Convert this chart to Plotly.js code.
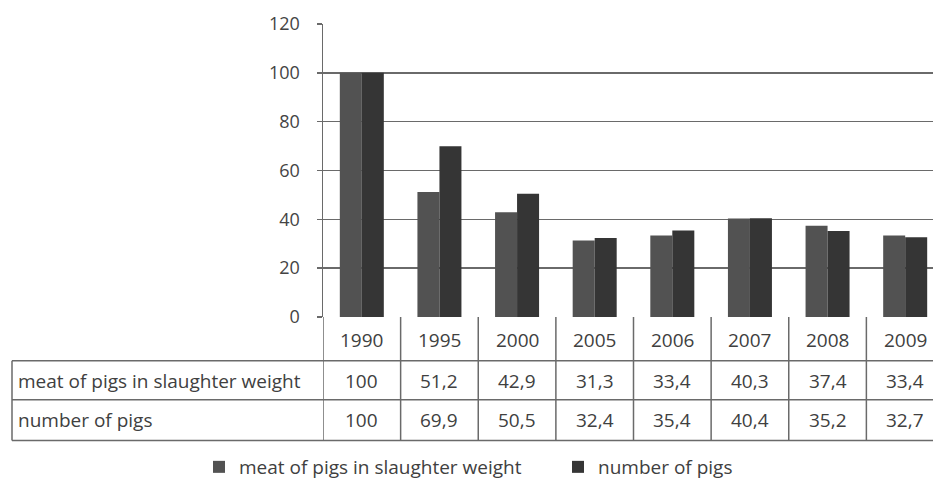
<!DOCTYPE html>
<html>
<head>
<meta charset="utf-8">
<script src="https://cdn.plot.ly/plotly-3.0.1.min.js"></script>
<style>
html,body{margin:0;padding:0;overflow:hidden;background:#fff;}
#chart{width:945px;height:486px;}
</style>
</head>
<body>
<div id="chart"></div>
<script>
const years = ["1990","1995","2000","2005","2006","2007","2008","2009"];
const seriesNames = ["meat of pigs in slaughter weight", "number of pigs"];
const meat = [100, 51.2, 42.9, 31.3, 33.4, 40.3, 37.4, 33.4];
const pigs = [100, 69.9, 50.5, 32.4, 35.4, 40.4, 35.2, 32.7];
const yTicks = [0, 20, 40, 60, 80, 100, 120];

const FONT = "Open Sans, Noto Sans, sans-serif";
const TXT = "#404040";
const LINE = "#6a6a6a";
const FS = 19;

// geometry (pixels)
const W = 945, H = 486;
const L = 323, T = 24, B = 318;
const plotW = W - L - 1, plotH = B - T;
const px2py = p => (B - p) / plotH;       // pixel y -> paper y
const px2px = p => (p - L) / plotW;       // pixel x -> paper x

const rowLines = [362, 401, 442].map(px2py);
const rowCenters = [341, 382, 421].map(px2py);
const tableLeft = px2px(12);
const labelX = px2px(16);

const fmt = v => String(v).replace('.', ',');

const shapes = [];
for (let k = 0; k <= years.length; k++) {
  shapes.push({type:'line', xref:'x', yref:'paper', x0:k-0.5, x1:k-0.5, y0:0, y1:rowLines[2],
    line:{color:LINE, width:1.5}});
}
rowLines.forEach(y => shapes.push({type:'line', xref:'paper', yref:'paper', x0:tableLeft, x1:1.02, y0:y, y1:y,
  line:{color:LINE, width:1.5}}));
shapes.push({type:'line', xref:'paper', yref:'paper', x0:tableLeft, x1:tableLeft, y0:rowLines[0], y1:rowLines[2],
  line:{color:LINE, width:1.5}});

const annotations = [];
const cellFont = {family:FONT, size:FS, color:TXT};
years.forEach((yr, i) => {
  [[yr, rowCenters[0]], [fmt(meat[i]), rowCenters[1]], [fmt(pigs[i]), rowCenters[2]]].forEach(([t, y]) => {
    annotations.push({xref:'x', yref:'paper', x:i, y:y, text:t, showarrow:false,
      xanchor:'center', yanchor:'middle', font:cellFont});
  });
});
seriesNames.forEach((n, r) => {
  annotations.push({xref:'paper', yref:'paper', x:labelX, y:rowCenters[r+1], xanchor:'left', yanchor:'middle',
    text:n, showarrow:false, font:cellFont});
});

const traces = [
  {type:'bar', name:seriesNames[0], x:years.map((_, i) => i), y:meat,
   marker:{color:'#525252', line:{width:0}}, hoverinfo:'skip'},
  {type:'bar', name:seriesNames[1], x:years.map((_, i) => i), y:pigs,
   marker:{color:'#353535', line:{width:0}}, hoverinfo:'skip'}
];

const layout = {
  width: W, height: H,
  margin:{l:L, r:1, t:T, b:H - B, pad:0},
  paper_bgcolor:'#fff', plot_bgcolor:'#fff',
  barmode:'group', bargap:0.433, bargroupgap:0,
  font:{family:FONT, size:FS, color:TXT},
  xaxis:{range:[-0.5, years.length - 0.5], showticklabels:false, ticks:'', showgrid:false,
    zeroline:false, showline:false, fixedrange:true},
  yaxis:{range:[0,120], tickvals:yTicks, ticktext:yTicks.map(String), ticks:'outside', ticklen:5,
    tickcolor:LINE, tickwidth:1.5, ticklabelstandoff:13,
    showgrid:true, gridcolor:LINE, gridwidth:1.5, zeroline:false,
    showline:true, linecolor:LINE, linewidth:1.5,
    tickfont:{family:FONT, size:18, color:'#444'}, fixedrange:true},
  showlegend:true,
  legend:{orientation:'h', x:px2px(199), y:px2py(468), xanchor:'left', yanchor:'middle',
    entrywidth:314, entrywidthmode:'pixels', font:{family:FONT, size:FS, color:TXT},
    bgcolor:'rgba(0,0,0,0)', borderwidth:0},
  shapes: shapes,
  annotations: annotations
};

Plotly.newPlot('chart', traces, layout, {displayModeBar:false, staticPlot:true});
</script>
</body>
</html>
